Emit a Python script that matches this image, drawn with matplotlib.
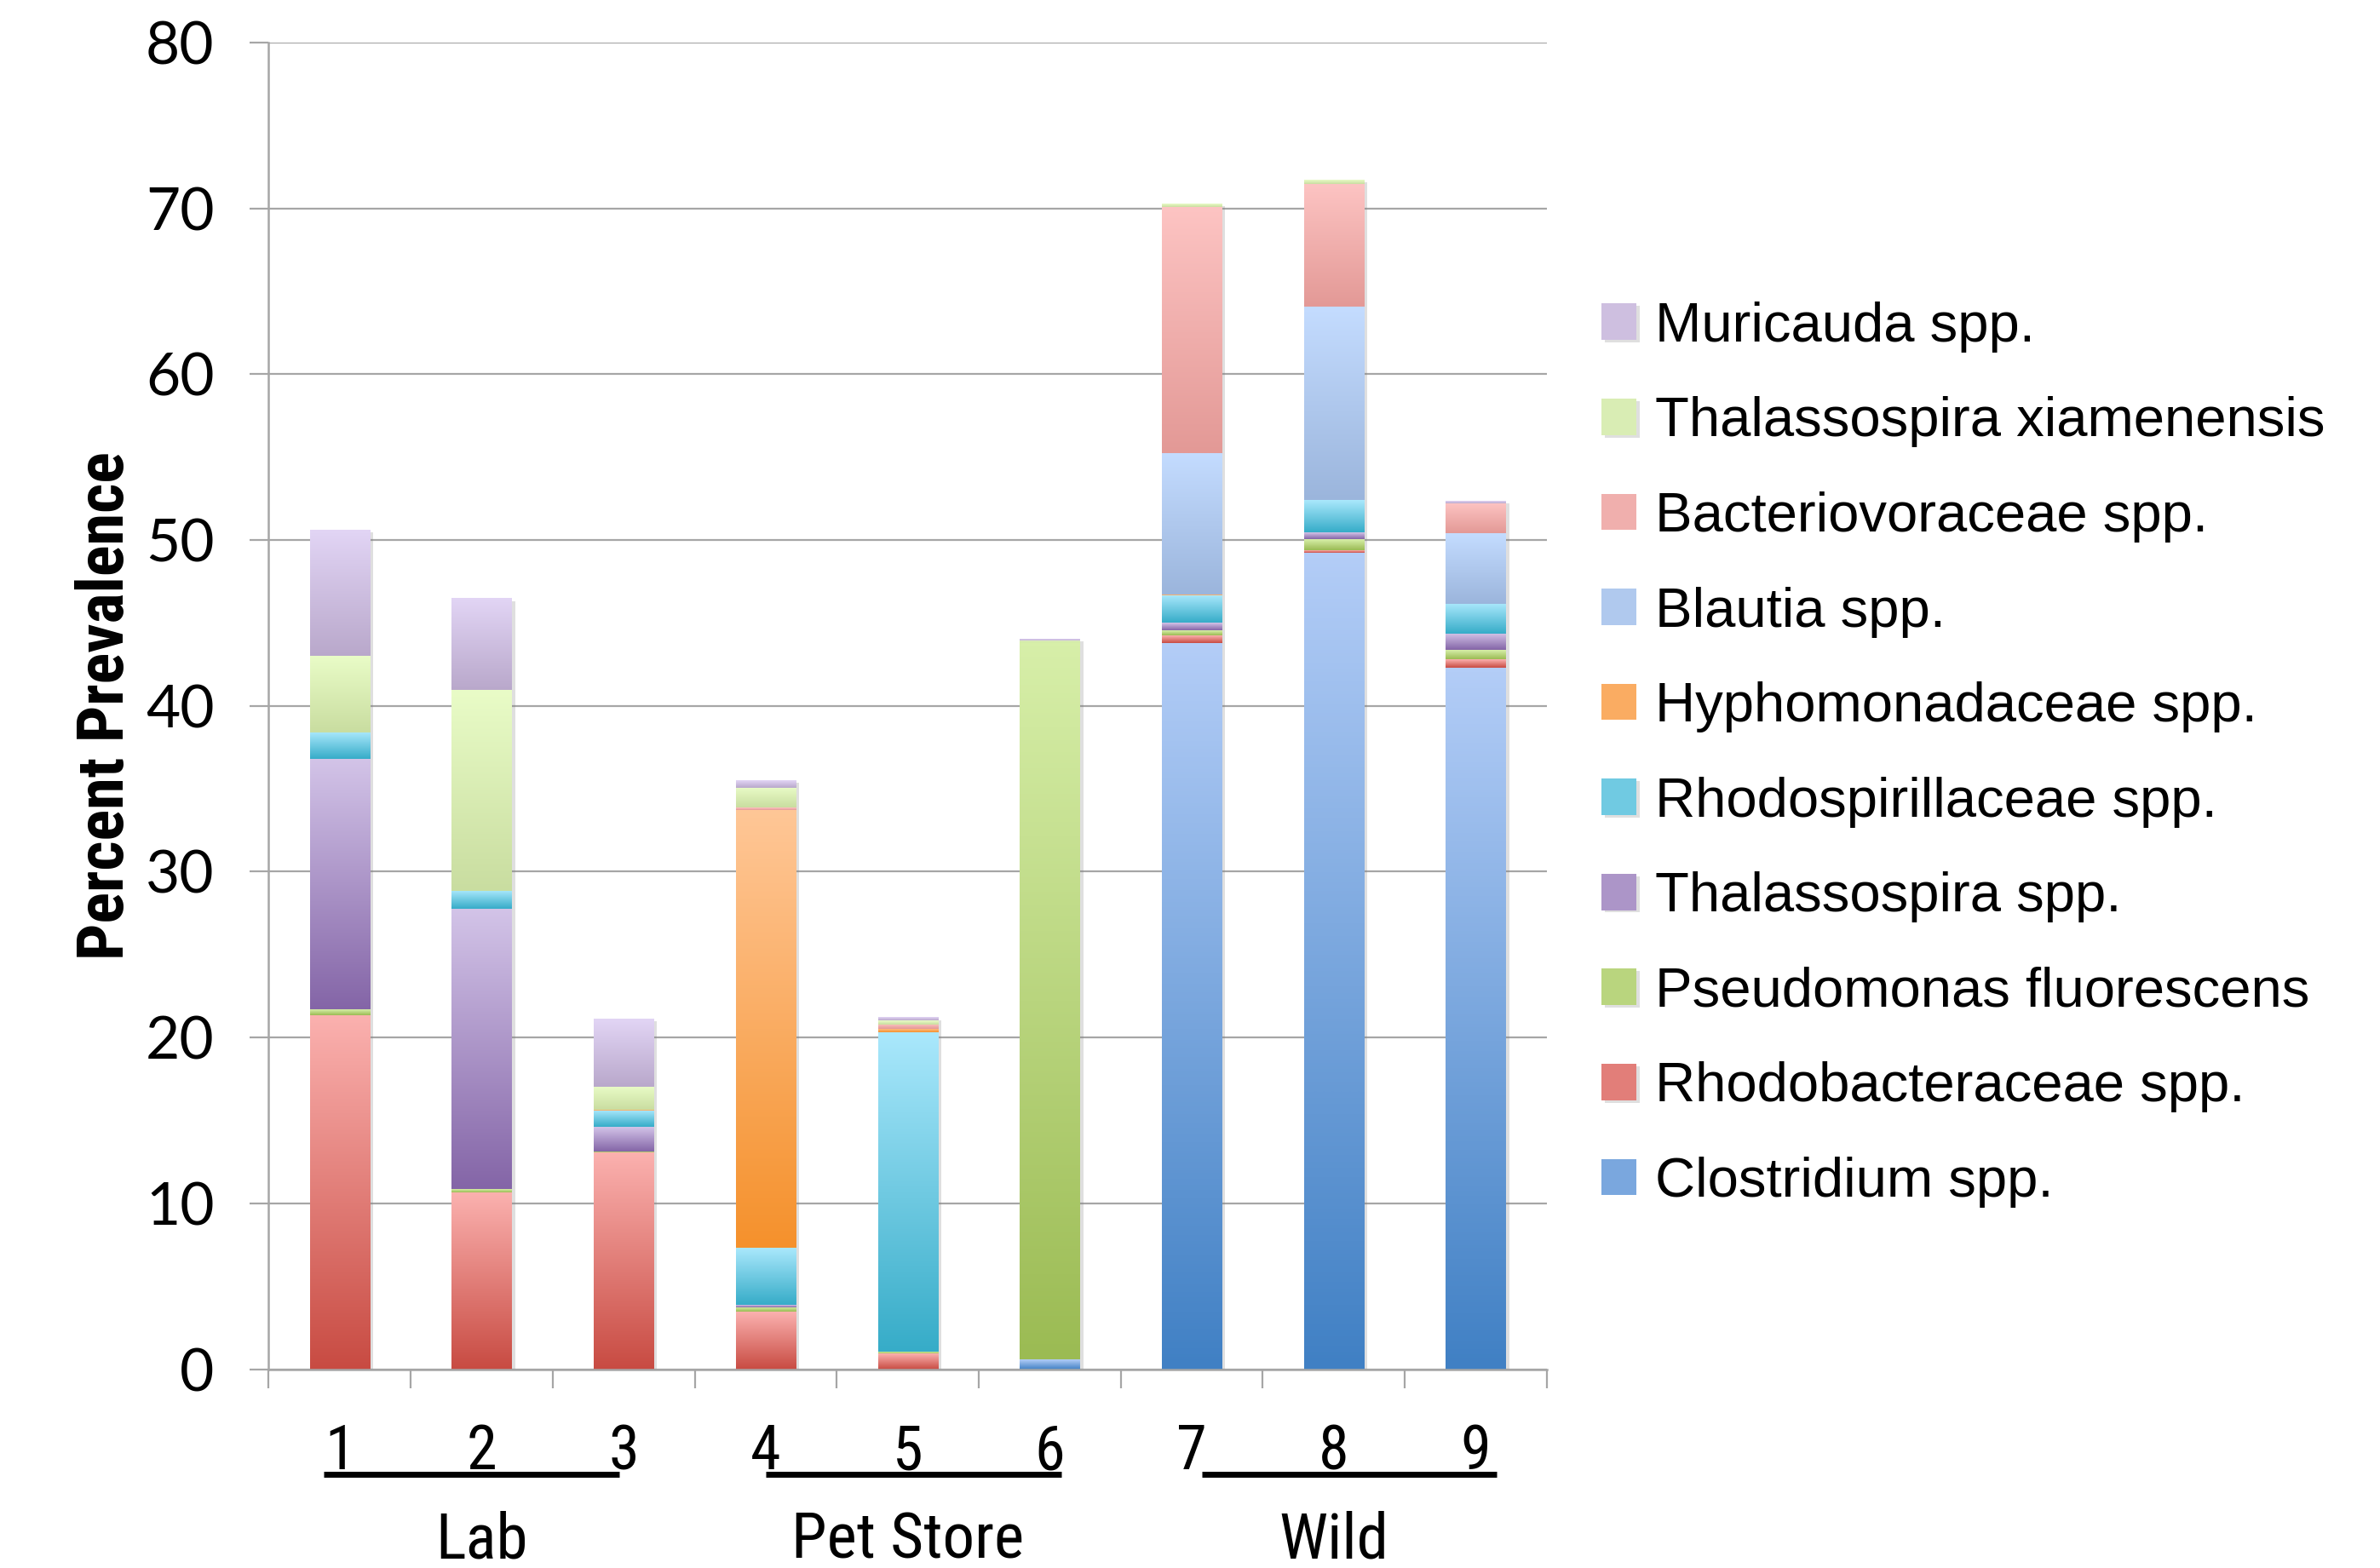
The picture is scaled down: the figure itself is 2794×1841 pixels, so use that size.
import os
import matplotlib
matplotlib.use('Agg')
import matplotlib.pyplot as plt
from matplotlib import font_manager as fm
from matplotlib import patheffects as pe
from matplotlib.colors import LinearSegmentedColormap
import numpy as np

# samples and the site each one came from
samples = ['1', '2', '3', '4', '5', '6', '7', '8', '9']
sample_site = ['Lab', 'Lab', 'Lab', 'Pet Store', 'Pet Store', 'Pet Store', 'Wild', 'Wild', 'Wild']

# percent prevalence per taxon, stacked bottom to top
clostridium = [0, 0, 0, 0, 0, 0.6, 43.8, 49.25, 42.3]
rhodobacteraceae = [21.35, 10.65, 13.05, 3.45, 0.95, 0, 0.45, 0.15, 0.5]
pseudomonas = [0.35, 0.2, 0.1, 0.3, 0.1, 43.25, 0.3, 0.65, 0.55]
thalassospira = [15.1, 16.9, 1.45, 0.15, 0, 0, 0.45, 0.4, 1.0]
rhodospirillaceae = [1.6, 1.1, 1.0, 3.4, 19.25, 0, 1.65, 1.95, 1.8]
hyphomonadaceae = [0, 0, 0.05, 26.4, 0.22, 0, 0.05, 0, 0]
blautia = [0, 0, 0, 0, 0, 0, 8.55, 11.65, 4.25]
bacteriovoraceae = [0, 0, 0, 0.15, 0.28, 0, 14.85, 7.4, 1.8]
thal_xiamenensis = [4.6, 12.1, 1.4, 1.2, 0.22, 0.09, 0.2, 0.25, 0]
muricauda = [7.6, 5.5, 4.1, 0.45, 0.17, 0.07, 0, 0, 0.15]

series = [
    ('Clostridium spp.', clostridium, '#4080c4', '#b3cdf7'),
    ('Rhodobacteraceae spp.', rhodobacteraceae, '#c84b42', '#fbb1af'),
    ('Pseudomonas fluorescens', pseudomonas, '#9bbb53', '#d7efa9'),
    ('Thalassospira spp.', thalassospira, '#8465a7', '#d3c4e8'),
    ('Rhodospirillaceae spp.', rhodospirillaceae, '#36acc8', '#aae8fc'),
    ('Hyphomonadaceae spp.', hyphomonadaceae, '#f5912c', '#ffc797'),
    ('Blautia spp.', blautia, '#9bb5dc', '#c4dcff'),
    ('Bacteriovoraceae spp.', bacteriovoraceae, '#e39996', '#fdc4c3'),
    ('Thalassospira xiamenensis', thal_xiamenensis, '#c9dda0', '#e9fcc7'),
    ('Muricauda spp.', muricauda, '#b9a8cb', '#e2d5f5'),
]


def condensed_font(names, bold=False):
    # look for a narrow face on disk, else ask for a condensed DejaVu
    files = {os.path.basename(f.fname): f.fname for f in fm.fontManager.ttflist}
    for n in names:
        if n in files:
            return fm.FontProperties(fname=files[n])
    return fm.FontProperties(family='DejaVu Sans', stretch='condensed',
                             weight='bold' if bold else 'normal')


narrow = condensed_font(['LiberationSansNarrow-Regular.ttf', 'RobotoCondensed-Regular.ttf',
                         'DejaVuSansCondensed.ttf'])
narrow_bold = condensed_font(['LiberationSansNarrow-Bold.ttf', 'RobotoCondensed-Bold.ttf',
                              'DejaVuSansCondensed-Bold.ttf'], bold=True)
grid_col = '#a6a6a6'

fig = plt.figure(figsize=(27.94, 18.41), dpi=100)
ax = fig.add_axes([0.1129, 0.1268, 0.537, 0.8461])

x = np.arange(1, len(samples) + 1)
width = 0.42
ramp = np.linspace(0, 1, 256).reshape(-1, 1)
bottom = np.zeros(len(samples))
shadow = [pe.SimplePatchShadow(offset=(3, -2), shadow_rgbFace='#808080', alpha=0.25),
          pe.Normal()]
handles = []
for name, vals, dark, light in series:
    vals = np.array(vals, dtype=float)
    cmap = LinearSegmentedColormap.from_list(name, [dark, light])
    bars = ax.bar(x, vals, width, bottom=bottom, color=cmap(0.5), linewidth=0,
                  zorder=1.5, label=name)
    # vertical gradient fill inside each segment, soft shadow behind it
    for p in bars.patches:
        if p.get_height() <= 0:
            continue
        p.set_path_effects(shadow)
        x0, y0 = p.get_x(), p.get_y()
        ax.imshow(ramp, cmap=cmap, origin='lower', aspect='auto',
                  extent=[x0, x0 + p.get_width(), y0, y0 + p.get_height()],
                  zorder=2, interpolation='bilinear')
    handles.append(bars)
    bottom += vals

ax.set_xlim(0.5, len(samples) + 0.5)
ax.set_ylim(0, 80)
ax.set_yticks(np.arange(0, 81, 10))
ax.set_axisbelow(True)
ax.yaxis.grid(True, color=grid_col, linewidth=1.6)

for s in ['top', 'right']:
    ax.spines[s].set_visible(False)
for s in ['left', 'bottom']:
    ax.spines[s].set_color(grid_col)
    ax.spines[s].set_linewidth(1.8)

ax.tick_params(axis='y', length=16, width=1.6, color=grid_col, pad=30,
               labelsize=50)
for t in ax.get_yticklabels():
    t.set_family(['Lato', 'DejaVu Sans'])

# category separators below the axis
ax.set_xticks(np.arange(0.5, len(samples) + 1, 1), minor=True)
ax.tick_params(axis='x', which='minor', length=16, width=1.6, color=grid_col)
ax.set_xticks(x)
ax.set_xticklabels([])
ax.tick_params(axis='x', which='major', length=0)

tr = ax.get_xaxis_transform()
for xi, lab in zip(x, samples):
    ax.text(xi, -0.0755, lab, transform=tr, ha='center', va='baseline',
            fontproperties=narrow, fontsize=52)

ax.set_ylabel('Percent Prevalence', fontproperties=narrow_bold, fontsize=55)
ax.yaxis.set_label_coords(-0.103, 0.5)

# site groups: underline the sample numbers and name the site
underline_shift = [-0.11, 0.0, 0.07]
sites = list(dict.fromkeys(sample_site))
for site, shift in zip(sites, underline_shift):
    idx = [x[i] for i in range(len(samples)) if sample_site[i] == site]
    lo, hi = min(idx), max(idx)
    ax.plot([lo + shift, hi + shift + 0.08], [-0.0795, -0.0795], transform=tr,
            color='black', linewidth=5, clip_on=False, solid_capstyle='butt')
    ax.text((lo + hi) / 2, -0.1425, site, transform=tr, ha='center', va='baseline',
            fontproperties=narrow, fontsize=54)

leg = fig.legend(handles[::-1], [s[0] for s in series][::-1],
                 loc='upper left', bbox_to_anchor=(0.6635, 0.822),
                 frameon=False, prop={'family': ['Liberation Sans', 'DejaVu Sans'], 'size': 47},
                 handlelength=0.63, handleheight=0.63, handletextpad=0.33,
                 labelspacing=0.79, borderaxespad=0)

fig.savefig('out.png', dpi=100)
